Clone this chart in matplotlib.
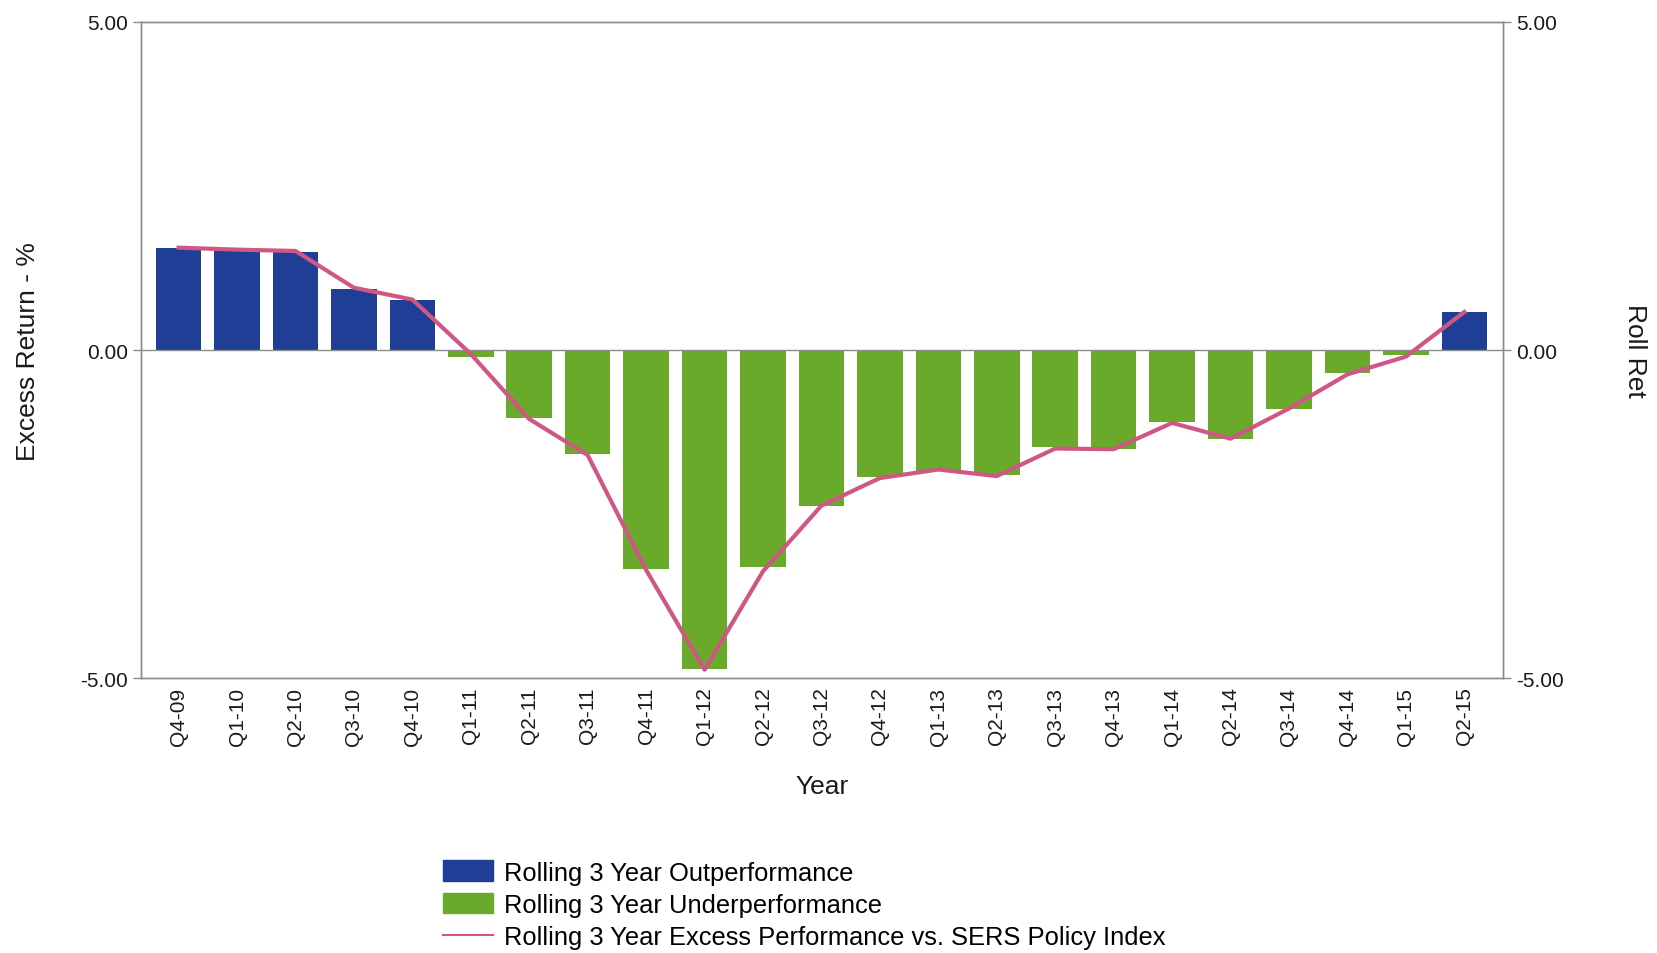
import matplotlib
matplotlib.use('Agg')
import matplotlib.pyplot as plt
from matplotlib.lines import Line2D
from matplotlib.patches import Patch
import numpy as np

plt.rcParams['font.family'] = ['Liberation Sans', 'DejaVu Sans']

# %% data
quarters = ['Q4-09', 'Q1-10', 'Q2-10', 'Q3-10', 'Q4-10', 'Q1-11', 'Q2-11', 'Q3-11',
            'Q4-11', 'Q1-12', 'Q2-12', 'Q3-12', 'Q4-12', 'Q1-13', 'Q2-13', 'Q3-13',
            'Q4-13', 'Q1-14', 'Q2-14', 'Q3-14', 'Q4-14', 'Q1-15', 'Q2-15']
excess_bars = [1.55, 1.51, 1.50, 0.93, 0.77, -0.11, -1.03, -1.59,
               -3.33, -4.86, -3.30, -2.37, -1.93, -1.84, -1.90, -1.48,
               -1.50, -1.09, -1.35, -0.90, -0.35, -0.08, 0.58]
excess_line = [1.56, 1.53, 1.51, 0.95, 0.77, -0.06, -1.05, -1.60,
               -3.35, -4.87, -3.37, -2.37, -1.95, -1.82, -1.92, -1.50,
               -1.51, -1.11, -1.35, -0.89, -0.37, -0.10, 0.58]

blue = '#1f3e96'
green = '#6aaa2b'
pink = '#cf5785'
grey = '#8c8c8c'
txt = '#1a1a1a'

vals = np.array(excess_bars)
x = np.arange(len(quarters))
out_vals = np.where(vals > 0, vals, 0)
under_vals = np.where(vals < 0, vals, 0)

fig = plt.figure(figsize=(16.58, 9.54), dpi=100)
ax = fig.add_axes([0.0848, 0.288, 0.822, 0.688])

ax.bar(x, out_vals, width=0.78, color=blue, zorder=2)
ax.bar(x, under_vals, width=0.78, color=green, zorder=2)
ax.axhline(0, color=grey, lw=1, zorder=3)
ax.plot(x, excess_line, color=pink, lw=3, zorder=4, solid_joinstyle='round')

ax.set_xlim(-0.65, len(quarters) - 1 + 0.67)
ax.set_ylim(-5, 5)
ax.set_yticks([-5, 0, 5])
ax.set_yticklabels(['-5.00', '0.00', '5.00'])
ax.set_xticks(x)
ax.set_xticklabels(quarters, rotation=90)
ax.tick_params(axis='y', length=6, width=1, color=grey, pad=3, labelsize=15, labelcolor=txt)
ax.tick_params(axis='x', length=0, pad=6, labelsize=15, labelcolor=txt)
for s in ax.spines.values():
    s.set_color(grey)
    s.set_linewidth(1)

ax.set_xlabel('Year', fontsize=19, color=txt)
ax.xaxis.set_label_coords(0.5, -0.146)
ax.set_ylabel('Excess Return - %', fontsize=19, color=txt)
ax.yaxis.set_label_coords(-0.074, 0.5)

# right axis mirrors the left scale
ax2 = ax.twinx()
ax2.set_ylim(-5, 5)
ax2.set_yticks([-5, 0, 5])
ax2.set_yticklabels(['-5.00', '0.00', '5.00'])
ax2.tick_params(axis='y', length=6, width=1, color=grey, pad=3, labelsize=15, labelcolor=txt)
for s in ax2.spines.values():
    s.set_color(grey)
    s.set_linewidth(1)
ax2.set_ylabel('Roll Ret', fontsize=19, color=txt, rotation=270, va='center')
ax2.yaxis.set_label_coords(1.0965, 0.5)

handles = [Patch(color=blue), Patch(color=green), Line2D([], [], color=pink, lw=1.5)]
labels = ['Rolling 3 Year Outperformance', 'Rolling 3 Year Underperformance',
          'Rolling 3 Year Excess Performance vs. SERS Policy Index']
fig.legend(handles, labels, loc='upper left', bbox_to_anchor=(0.267, 0.097),
           frameon=False, fontsize=18.4, handlelength=1.95, handleheight=0.85,
           handletextpad=0.45, labelspacing=0.33, borderaxespad=0, borderpad=0)

fig.savefig('out.png', dpi=100)
